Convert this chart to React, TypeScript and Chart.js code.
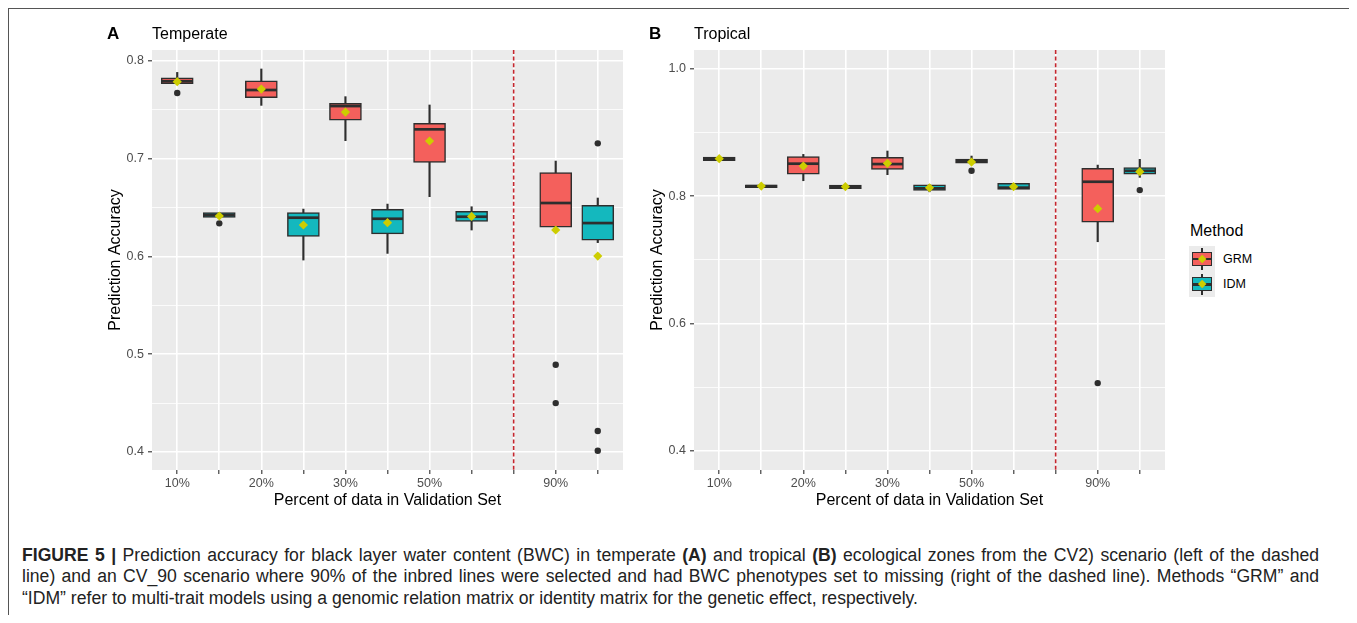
import React, { useEffect, useRef } from 'react';
import { Chart, registerables } from 'chart.js';

Chart.register(...registerables);

const FONT = "'Liberation Sans', Arial, Helvetica, sans-serif";

// Discrete x slots (slot 9 is the empty separator slot)
const slots = [1, 2, 3, 4, 5, 6, 7, 8, 9, 10, 11];
const slotLabels = ['10%', '', '20%', '', '30%', '', '50%', '', '', '90%', ''];
const grmSlots = [1, 3, 5, 7, 10];
const idmSlots = [2, 4, 6, 8, 11];
const separatorSlot = 9;
const xRange = [0.4, 11.6];

// ---------- Temperate (A) ----------
const tempYMajor = [0.4, 0.5, 0.6, 0.7, 0.8];
const tempYMinor = [0.45, 0.55, 0.65, 0.75];
const tempYRange = [0.3816, 0.8109];

const tempGrmLow = [0.7765, 0.7543, 0.7182, 0.661, 0.6297];
const tempGrmQ1 = [0.7765, 0.7622, 0.7393, 0.696, 0.6297];
const tempGrmMed = [0.779, 0.770, 0.7536, 0.7298, 0.6545];
const tempGrmQ3 = [0.7825, 0.7795, 0.7564, 0.736, 0.6855];
const tempGrmHigh = [0.788, 0.7915, 0.7632, 0.7547, 0.6974];
const tempGrmMean = [0.7785, 0.771, 0.7475, 0.7179, 0.6269];
const tempGrmOut = [[0.767], [], [], [], [0.4892, 0.45]];

const tempIdmLow = [0.6398, 0.5962, 0.603, 0.6269, 0.614];
const tempIdmQ1 = [0.6398, 0.6204, 0.623, 0.6357, 0.6164];
const tempIdmMed = [0.6422, 0.6395, 0.6384, 0.6405, 0.634];
const tempIdmQ3 = [0.6446, 0.6446, 0.648, 0.646, 0.6521];
const tempIdmHigh = [0.6446, 0.6483, 0.6534, 0.6507, 0.6596];
const tempIdmMean = [0.6412, 0.632, 0.6344, 0.6408, 0.6003];
const tempIdmOut = [[0.6337], [], [], [], [0.7155, 0.4214, 0.4012]];

// ---------- Tropical (B) ----------
const tropYMajor = [0.4, 0.6, 0.8, 1.0];
const tropYMinor = [0.5, 0.7, 0.9];
const tropYRange = [0.3697, 1.0299];

const tropGrmLow = [0.8559, 0.8244, 0.8339, 0.8522, 0.7285];
const tropGrmQ1 = [0.8559, 0.8349, 0.8422, 0.8522, 0.7594];
const tropGrmMed = [0.8588, 0.8512, 0.8506, 0.8555, 0.8228];
const tropGrmQ3 = [0.8616, 0.8622, 0.8611, 0.8585, 0.8438];
const tropGrmHigh = [0.8616, 0.8658, 0.8711, 0.8632, 0.849];
const tropGrmMean = [0.859, 0.8475, 0.8517, 0.8538, 0.7804];
const tropGrmOut = [[], [], [], [0.8401], [0.5063]];

const tropIdmLow = [0.8134, 0.8118, 0.807, 0.8108, 0.8297];
const tropIdmQ1 = [0.8134, 0.8118, 0.8092, 0.8108, 0.8349];
const tropIdmMed = [0.8157, 0.815, 0.8125, 0.8135, 0.840];
const tropIdmQ3 = [0.8181, 0.8176, 0.8181, 0.8202, 0.8449];
const tropIdmHigh = [0.8181, 0.8176, 0.8181, 0.8202, 0.858];
const tropIdmMean = [0.816, 0.815, 0.8134, 0.815, 0.8386];
const tropIdmOut = [[], [], [], [], [0.8097]];

const GRM_COLOR = '#F4605C';
const IDM_COLOR = '#14B8BE';
const INK = '#2E2E2E';
const MEAN_COLOR = '#CDCD00';
const CUT_COLOR = '#C4262E';

type Series = {
  low: number[]; q1: number[]; med: number[]; q3: number[]; high: number[]; mean: number[]; out: number[][];
};

type PanelSpec = {
  letter: string;
  title: string;
  yMajor: number[];
  yMinor: number[];
  yRange: number[];
  grm: Series;
  idm: Series;
};

const panelDecor = {
  id: 'panelDecor',
  beforeDraw(chart: any) {
    const { ctx, chartArea: a } = chart;
    ctx.save();
    ctx.fillStyle = '#EBEBEB';
    ctx.fillRect(a.left, a.top, a.right - a.left, a.bottom - a.top);
    ctx.restore();
  },
  beforeDatasetsDraw(chart: any, _args: any, opts: any) {
    const { ctx, chartArea: a } = chart;
    const x = chart.scales.x.getPixelForValue(opts.cut);
    ctx.save();
    ctx.strokeStyle = CUT_COLOR;
    ctx.lineWidth = 1.6;
    ctx.setLineDash([4, 2.6]);
    ctx.beginPath();
    ctx.moveTo(x, a.top);
    ctx.lineTo(x, a.bottom);
    ctx.stroke();
    ctx.restore();
  },
  afterDraw(chart: any, _args: any, opts: any) {
    const { ctx, chartArea: a } = chart;
    ctx.save();
    ctx.textBaseline = 'middle';
    ctx.textAlign = 'left';
    ctx.fillStyle = '#000000';
    ctx.font = `bold 17px ${FONT}`;
    ctx.fillText(opts.letter, a.left - 45, 19.5);
    ctx.font = `16px ${FONT}`;
    ctx.fillText(opts.title, a.left, 19.5);
    ctx.restore();
  },
};

function buildConfig(p: PanelSpec): any {
  const range = (xs: number[], lo: number[], hi: number[]) => xs.map((x, i) => ({ x, y: [lo[i], hi[i]] }));
  const pts = (xs: number[], v: number[]) => xs.map((x, i) => ({ x, y: v[i] }));
  const outs = (xs: number[], o: number[][]) => xs.flatMap((x, i) => o[i].map((y) => ({ x, y })));
  const isMajor = (v: number) => p.yMajor.some((m) => Math.abs(m - v) < 1e-9);

  return {
    type: 'bar',
    data: {
      datasets: [
        {
          type: 'bar',
          label: 'whiskers',
          data: [...range(grmSlots, p.grm.low, p.grm.high), ...range(idmSlots, p.idm.low, p.idm.high)],
          backgroundColor: INK,
          borderWidth: 0,
          barThickness: 1.5,
          grouped: false,
          order: 6,
        },
        {
          type: 'bar',
          label: 'GRM',
          data: range(grmSlots, p.grm.q1, p.grm.q3),
          backgroundColor: GRM_COLOR,
          borderColor: INK,
          borderWidth: 1.5,
          borderSkipped: false,
          barThickness: 32,
          grouped: false,
          order: 5,
        },
        {
          type: 'bar',
          label: 'IDM',
          data: range(idmSlots, p.idm.q1, p.idm.q3),
          backgroundColor: IDM_COLOR,
          borderColor: INK,
          borderWidth: 1.5,
          borderSkipped: false,
          barThickness: 32,
          grouped: false,
          order: 4,
        },
        {
          type: 'scatter',
          label: 'medians',
          data: [...pts(grmSlots, p.grm.med), ...pts(idmSlots, p.idm.med)],
          pointStyle: 'line',
          radius: 15.5,
          borderColor: INK,
          borderWidth: 2.7,
          order: 3,
        },
        {
          type: 'scatter',
          label: 'outliers',
          data: [...outs(grmSlots, p.grm.out), ...outs(idmSlots, p.idm.out)],
          pointStyle: 'circle',
          radius: 3.2,
          backgroundColor: INK,
          borderWidth: 0,
          order: 2,
        },
        {
          type: 'scatter',
          label: 'means',
          data: [...pts(grmSlots, p.grm.mean), ...pts(idmSlots, p.idm.mean)],
          pointStyle: 'rectRot',
          radius: 4.6,
          backgroundColor: MEAN_COLOR,
          borderWidth: 0,
          order: 1,
        },
      ],
    },
    options: {
      animation: false,
      responsive: false,
      events: [],
      layout: { autoPadding: false, padding: { left: 0, top: 35, right: 7, bottom: 0 } },
      plugins: {
        legend: { display: false },
        tooltip: { enabled: false },
        panelDecor: { letter: p.letter, title: p.title, cut: separatorSlot },
      },
      scales: {
        x: {
          type: 'linear',
          offset: false,
          min: xRange[0],
          max: xRange[1],
          border: { display: false },
          grid: {
            offset: false,
            color: '#FFFFFF',
            lineWidth: 1.6,
            tickColor: INK,
            tickWidth: 1.1,
            tickLength: 4,
            drawTicks: true,
          },
          afterBuildTicks: (s: any) => {
            s.ticks = slots.map((v) => ({ value: v }));
          },
          afterFit: (s: any) => {
            s.height = 50;
          },
          ticks: {
            autoSkip: false,
            maxRotation: 0,
            padding: 2,
            color: '#4D4D4D',
            font: { size: 12.5, family: FONT },
            callback: (v: number) => slotLabels[slots.indexOf(v)] ?? '',
          },
          title: {
            display: true,
            text: 'Percent of data in Validation Set',
            color: '#000000',
            font: { size: 16, family: FONT },
            padding: { top: 0, bottom: 10 },
          },
        },
        y: {
          type: 'linear',
          min: p.yRange[0],
          max: p.yRange[1],
          border: { display: false },
          grid: {
            color: '#FFFFFF',
            lineWidth: (c: any) => (isMajor(c.tick.value) ? 1.6 : 0.8),
            tickColor: (c: any) => (isMajor(c.tick.value) ? INK : 'rgba(0,0,0,0)'),
            tickWidth: 1.1,
            tickLength: 4,
          },
          afterBuildTicks: (s: any) => {
            s.ticks = [...p.yMajor, ...p.yMinor].sort((a, b) => a - b).map((v) => ({ value: v }));
          },
          afterFit: (s: any) => {
            s.width = 57;
          },
          ticks: {
            autoSkip: false,
            padding: 4,
            color: '#4D4D4D',
            font: { size: 12.5, family: FONT },
            callback: (v: number) => (isMajor(v) ? v.toFixed(1) : ''),
          },
          title: {
            display: true,
            text: 'Prediction Accuracy',
            color: '#000000',
            font: { size: 16, family: FONT },
            padding: { top: 11, bottom: 0 },
          },
        },
      },
    },
    plugins: [panelDecor],
  };
}

const temperate: PanelSpec = {
  letter: 'A',
  title: 'Temperate',
  yMajor: tempYMajor,
  yMinor: tempYMinor,
  yRange: tempYRange,
  grm: { low: tempGrmLow, q1: tempGrmQ1, med: tempGrmMed, q3: tempGrmQ3, high: tempGrmHigh, mean: tempGrmMean, out: tempGrmOut },
  idm: { low: tempIdmLow, q1: tempIdmQ1, med: tempIdmMed, q3: tempIdmQ3, high: tempIdmHigh, mean: tempIdmMean, out: tempIdmOut },
};

const tropical: PanelSpec = {
  letter: 'B',
  title: 'Tropical',
  yMajor: tropYMajor,
  yMinor: tropYMinor,
  yRange: tropYRange,
  grm: { low: tropGrmLow, q1: tropGrmQ1, med: tropGrmMed, q3: tropGrmQ3, high: tropGrmHigh, mean: tropGrmMean, out: tropGrmOut },
  idm: { low: tropIdmLow, q1: tropIdmQ1, med: tropIdmMed, q3: tropIdmQ3, high: tropIdmHigh, mean: tropIdmMean, out: tropIdmOut },
};

function Panel({ spec, left, top }: { spec: PanelSpec; left: number; top: number }) {
  const ref = useRef<HTMLCanvasElement>(null);
  useEffect(() => {
    const chart = new Chart(ref.current as HTMLCanvasElement, buildConfig(spec));
    return () => chart.destroy();
  }, [spec]);
  return (
    <canvas
      ref={ref}
      width={535}
      height={505}
      style={{ position: 'absolute', left, top, width: 535, height: 505 }}
    />
  );
}

function LegendKey({ color, top }: { color: string; top: number }) {
  return (
    <div style={{ position: 'absolute', left: 0, top, width: 26, height: 25.5 }}>
      <div style={{ position: 'absolute', left: 12.3, top: 2, width: 1.5, height: 21.5, background: INK }} />
      <div
        style={{
          position: 'absolute', left: 3, top: 5.75, width: 20, height: 14, boxSizing: 'border-box',
          background: color, border: `1.5px solid ${INK}`,
        }}
      />
      <div style={{ position: 'absolute', left: 3, top: 11.5, width: 20, height: 2.7, background: INK }} />
      <div
        style={{
          position: 'absolute', left: 9.8, top: 9.55, width: 6.4, height: 6.4, background: MEAN_COLOR,
          transform: 'rotate(45deg)',
        }}
      />
    </div>
  );
}

export default function App() {
  const captionStyle: React.CSSProperties = {
    whiteSpace: 'nowrap',
    height: 21.7,
    lineHeight: '21.7px',
  };
  return (
    <div
      style={{
        position: 'relative',
        width: 1348,
        height: 607,
        boxSizing: 'border-box',
        borderTop: '1px solid #555',
        borderLeft: '1px solid #555',
        borderRight: '1.5px solid #666',
        fontFamily: FONT,
        background: '#FFFFFF',
      }}
    >
      <Panel spec={temperate} left={86} top={6} />
      <Panel spec={tropical} left={628} top={6} />

      {/* Legend */}
      <div style={{ position: 'absolute', left: 1181, top: 213, fontSize: 16, lineHeight: '18px', color: '#000' }}>Method</div>
      <div style={{ position: 'absolute', left: 1180, top: 237, width: 26, height: 51, background: '#EBEBEB' }}>
        <LegendKey color={GRM_COLOR} top={0} />
        <LegendKey color={IDM_COLOR} top={25.5} />
      </div>
      <div style={{ position: 'absolute', left: 1214, top: 241.5, fontSize: 12.5, lineHeight: '16px', color: '#000' }}>GRM</div>
      <div style={{ position: 'absolute', left: 1214, top: 267, fontSize: 12.5, lineHeight: '16px', color: '#000' }}>IDM</div>

      {/* Caption */}
      <div style={{ position: 'absolute', left: 13, top: 535.8, fontSize: 17.6, color: '#222' }}>
        <div style={{ ...captionStyle, width: 1297, textAlign: 'justify', textAlignLast: 'justify' } as React.CSSProperties}>
          <b>FIGURE 5 |</b> Prediction accuracy for black layer water content (BWC) in temperate <b>(A)</b> and tropical{' '}
          <b>(B)</b> ecological zones from the CV2) scenario (left of the dashed
        </div>
        <div style={{ ...captionStyle, width: 1297, textAlign: 'justify', textAlignLast: 'justify' } as React.CSSProperties}>
          line) and an CV_90 scenario where 90% of the inbred lines were selected and had BWC phenotypes set to missing (right of the dashed line). Methods “GRM” and
        </div>
        <div style={captionStyle}>
          “IDM” refer to multi-trait models using a genomic relation matrix or identity matrix for the genetic effect, respectively.
        </div>
      </div>
    </div>
  );
}
